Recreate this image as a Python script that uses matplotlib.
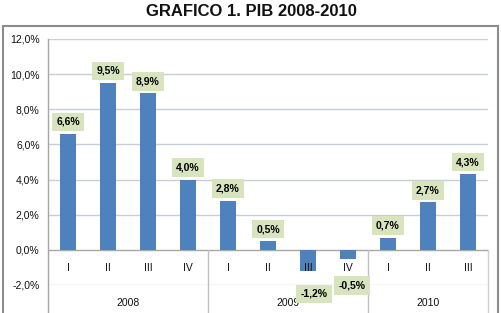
import matplotlib
matplotlib.use("Agg")
import matplotlib.pyplot as plt
from matplotlib.patches import Rectangle

quarters = ["I", "II", "III", "IV", "I", "II", "III", "IV", "I", "II", "III"]
years = ["2008", "2009", "2010"]
year_sizes = [4, 4, 3]
pib = [6.6, 9.5, 8.9, 4.0, 2.8, 0.5, -1.2, -0.5, 0.7, 2.7, 4.3]
yticks = [-2, 0, 2, 4, 6, 8, 10, 12]

# label offsets in pixels (Excel moved the two negative ones by hand)
label_offsets = [(0, 12)] * 6 + [(6, -23), (4, -27)] + [(0, 12)] * 3

plt.rcParams['font.family'] = ['Liberation Sans', 'DejaVu Sans']

fig = plt.figure(figsize=(5.02, 3.13), dpi=100)
fig.patch.set_facecolor('white')

# outer chart frame
fig.patches.append(Rectangle((3 / 502, -0.05), 495 / 502, 1 - 26 / 313 + 0.05,
                             transform=fig.transFigure, fill=False,
                             edgecolor='#8c8c8c', linewidth=1.5))
fig.text(0.5, 1 - 12 / 313, "GRAFICO 1. PIB 2008-2010", ha='center', va='center',
         fontsize=12, fontweight='bold', color='#111111')

ax = fig.add_axes([48 / 502, 1 - 285 / 313, 440 / 502, 246 / 313])
x = list(range(len(pib)))
ax.bar(x, pib, width=0.4, color='#4F81BD', zorder=3)
ax.set_xlim(-0.5, len(pib) - 0.5)
ax.set_ylim(-2, 12)
ax.set_yticks(yticks)
ax.set_yticklabels([f"{v:.1f}%".replace('.', ',') for v in yticks], fontsize=7.5,
                   color='#111111')
ax.tick_params(axis='y', length=0, pad=6)
ax.set_xticks([])
for s in ax.spines.values():
    s.set_visible(False)
for v in yticks:
    ax.axhline(v, color='#C6CFD9' if v != 0 else '#A6A6A6', linewidth=1, zorder=1)

# left axis line running down into category area
ax.plot([-0.5, -0.5], [12, -4], color='#A6A6A6', linewidth=1, clip_on=False)
ax.plot([len(pib) - 0.5] * 2, [0, -4], color='#D0D0D0', linewidth=1, clip_on=False)

for xi, q in zip(x, quarters):
    ax.text(xi, -1.03, q, ha='center', va='center', fontsize=7.5, color='#111111')

start = 0
for yr, n in zip(years, year_sizes):
    ax.text(start + (n - 1) / 2, -3.02, yr, ha='center', va='center', fontsize=7.5,
            color='#111111', clip_on=False)
    if start > 0:
        ax.plot([start - 0.5] * 2, [0, -4], color='#C0C0C0', linewidth=1, clip_on=False)
    start += n

for xi, v, off in zip(x, pib, label_offsets):
    ax.annotate(f"{v:.1f}%".replace('.', ','), (xi, v), xytext=off,
                textcoords='offset pixels', ha='center', va='center',
                fontsize=7.5, fontweight='bold', annotation_clip=False, zorder=5,
                bbox=dict(boxstyle='square,pad=0.4', facecolor='#D7E4BD', edgecolor='none'))

fig.savefig('out.png', dpi=100)
